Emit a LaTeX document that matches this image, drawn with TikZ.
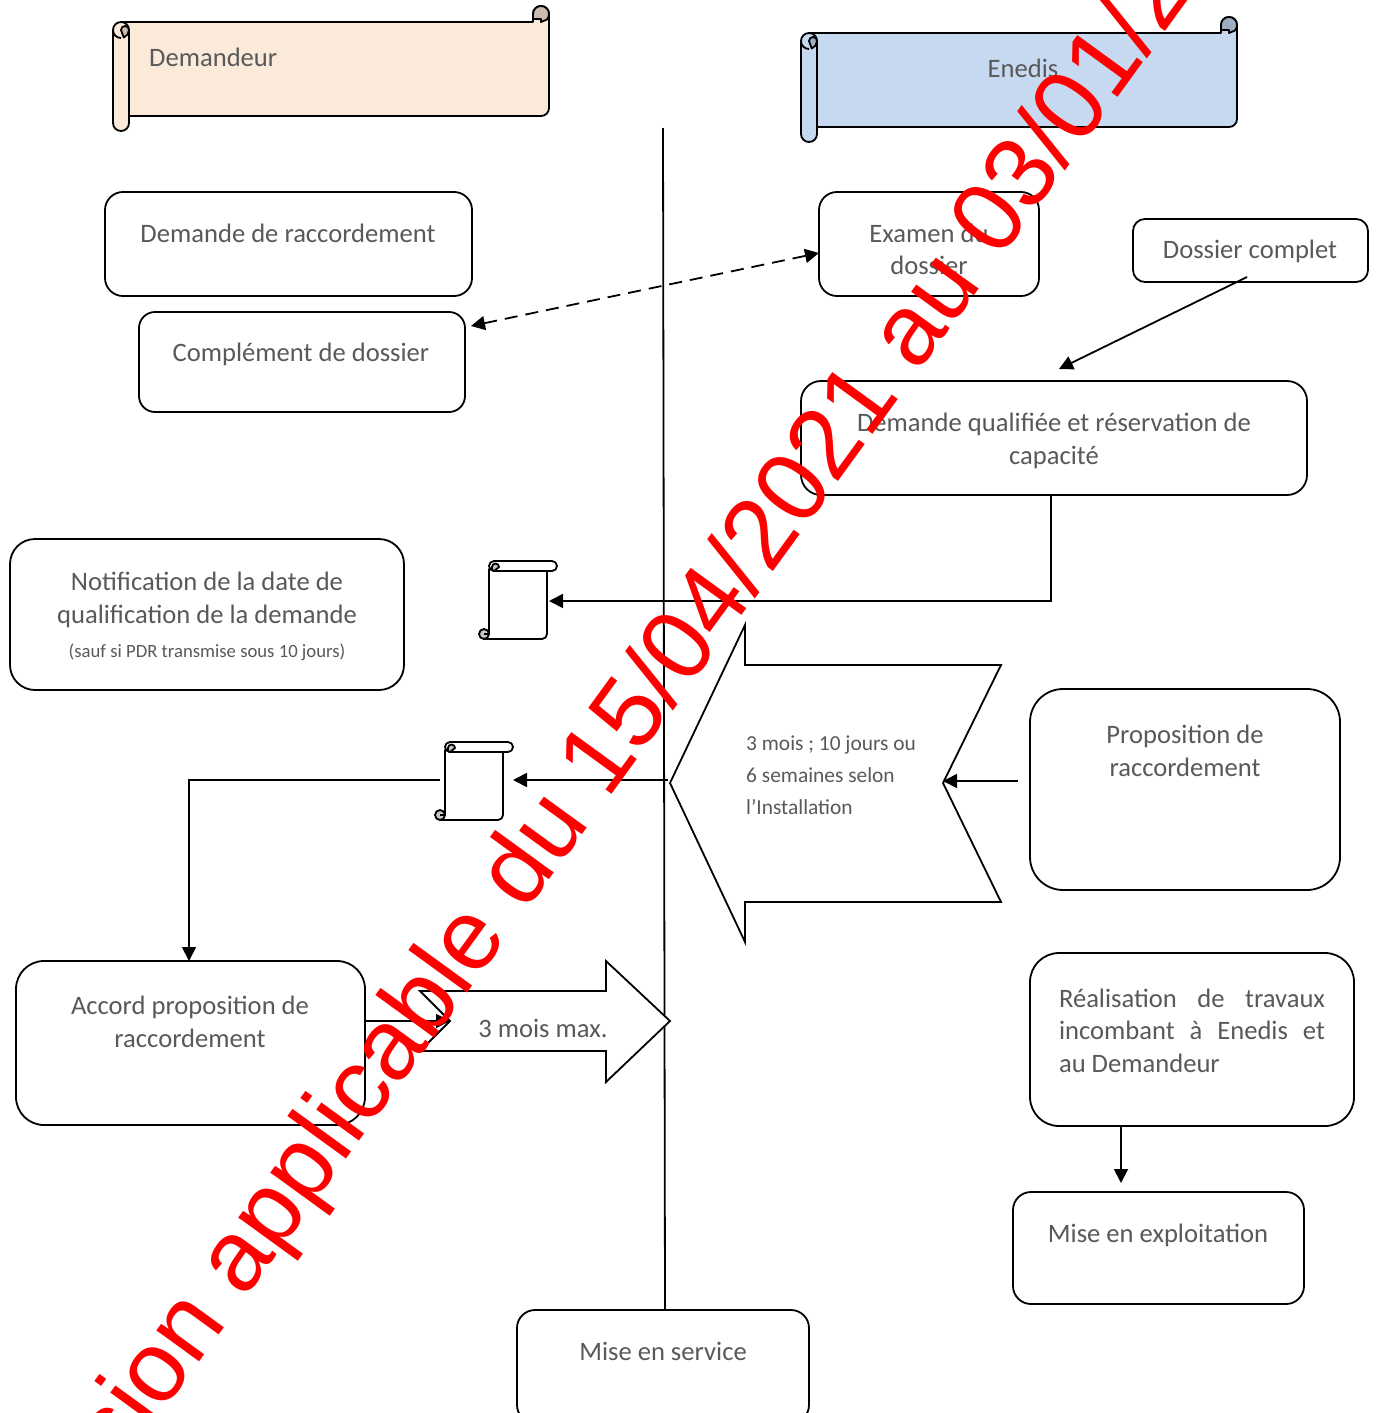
\documentclass[tikz,border=0pt]{standalone}
\usepackage{fontspec}
\setmainfont{Carlito}
\newfontfamily\wmfont{Liberation Sans}
\usetikzlibrary{arrows.meta}
\definecolor{txtgray}{HTML}{595959}
\definecolor{peach}{HTML}{FBE9DA}
\definecolor{peachdk}{HTML}{CBBBAF}
\definecolor{bluefill}{HTML}{C6D9F1}
\definecolor{bluedk}{HTML}{9EAEC1}
\tikzset{
  x=1pt,y=-1pt,
  box/.style={draw=black,line width=1.8pt,fill=white,rounded corners=#1,inner sep=0pt,outer sep=0pt},
  box/.default=18pt,
  lab/.style={text=txtgray,font=\fontsize{26.6}{32.6}\selectfont,align=center,inner sep=0pt},
  labsmall/.style={text=txtgray,font=\fontsize{18.7}{24}\selectfont,align=center,inner sep=0pt},
  lnk/.style={draw=black,line width=1.8pt},
  arr/.style={lnk,-{Triangle[length=14pt,width=14pt]}},
  dblarr/.style={lnk,dashed,dash pattern=on 13pt off 8pt,{Triangle[length=14pt,width=14pt]}-{Triangle[length=14pt,width=14pt]}},
  blockarrow/.style={draw=black,line width=1.8pt,fill=white,line join=miter},
  scrollline/.style={draw=black,line width=1.8pt,line join=round},
  anchorpt/.style={inner sep=0pt,outer sep=0pt,minimum size=0pt}
}
\newcommand{\hscroll}[4]{%
\begin{scope}[shift={(#1,#2)}]
  \draw[scrollline,fill=#3] (8,0) -- (420,0) -- (420,-8) arc[start angle=180,end angle=0,radius=8pt] -- (436,86) arc[start angle=0,end angle=-90,radius=8pt] -- (16,94) -- (16,8) -- cycle;
  \draw[scrollline,fill=#4] (420,-3) -- (420,-8) arc[start angle=180,end angle=-45,radius=8pt] -- (428,0) -- (428,-3) -- cycle;
  \draw[scrollline,fill=#3] (0,8) arc[start angle=180,end angle=0,radius=8pt] -- (16,101) arc[start angle=0,end angle=-180,radius=8pt] -- cycle;
  \draw[scrollline,fill=#4] (8,8) arc[start angle=180,end angle=0,radius=4pt] -- (16,8) arc[start angle=0,end angle=-70,radius=8pt] -- (8,8) -- cycle;
  \draw[scrollline] (0,8) arc[start angle=180,end angle=270,radius=8pt];
\end{scope}}
\newcommand{\vscroll}[2]{%
\begin{scope}[shift={(#1,#2)}]
  \draw[scrollline,fill=white] (-5,78) -- (53,78) arc[start angle=-90,end angle=0,radius=5pt] -- (58,8) -- (0,8) -- (0,73) -- cycle;
  \draw[scrollline,fill=gray!45] (-5,73) circle[radius=5pt];
  \draw[scrollline,fill=white] (-5,73) -- (0,73);
  \draw[scrollline,fill=white] (0,5) arc[start angle=180,end angle=90,radius=5pt] -- (63,0) arc[start angle=90,end angle=-90,radius=5pt] -- (5,10) arc[start angle=-90,end angle=-180,radius=5pt] -- cycle;
  \draw[scrollline,fill=gray!45] (3,6) arc[start angle=180,end angle=0,radius=3.5pt] -- (5,10) arc[start angle=-90,end angle=-180,radius=2pt] -- cycle;
\end{scope}}
\begin{document}
\begin{tikzpicture}
\path[use as bounding box] (0,0) rectangle (1376,1413);
\clip (0,0) rectangle (1376,1413);
\fill[white] (0,0) rectangle (1376,1413);

% central line
\coordinate (axisTop) at (663,128);
\coordinate (axisBottom) at (665,1311);
\draw[lnk] (axisTop) -- (axisBottom);

% scroll headers
\hscroll{113}{22}{peach}{peachdk}
\hscroll{801}{33}{bluefill}{bluedk}
\node[lab,anchor=base west] (hdrA) at (149,66.5) {Demandeur};
\node[lab,anchor=base] (hdrB) at (1023,77.5) {Enedis};

% boxes
\node[box=18pt,minimum width=367pt,minimum height=104pt] (demande) at (288.5,244) {};
\node[box=16pt,minimum width=326pt,minimum height=100pt] (complement) at (302,362) {};
\node[box=18pt,minimum width=220pt,minimum height=104pt] (examen) at (929,244) {};
\node[box=12pt,minimum width=235pt,minimum height=63pt] (complet) at (1250.5,250.5) {};
\node[box=20pt,minimum width=506pt,minimum height=114pt] (qualif) at (1054,438) {};
\node[box=25pt,minimum width=394pt,minimum height=151pt] (notif) at (207,614.5) {};
\node[box=33pt,minimum width=310pt,minimum height=201pt] (prop) at (1185,789.5) {};
\node[box=28pt,minimum width=349pt,minimum height=164pt] (accord) at (190.5,1043) {};
\node[box=29pt,minimum width=324pt,minimum height=173pt] (real) at (1192,1039.5) {};
\node[box=18pt,minimum width=291pt,minimum height=112pt] (exploit) at (1158.5,1248) {};
\node[box=18pt,minimum width=292pt,minimum height=113pt] (service) at (663,1366.5) {};

% box labels
\node[lab] (t1) at (288,233) {Demande de raccordement};
\node[lab] (t2) at (301,354.5) {Complément de dossier};
\node[lab] (t3) at (929,249.5) {Examen du\\dossier};
\node[lab] (t4) at (1250,251.5) {Dossier complet};
\node[lab] (t5) at (1054,441) {Demande qualifiée et réservation de\\capacité};
\node[lab] (t6) at (207,600) {Notification de la date de\\qualification de la demande};
\node[labsmall] (t7) at (207,652.5) {(sauf si PDR transmise sous 10 jours)};
\node[lab] (t8) at (1185,751) {Proposition de\\raccordement};
\node[lab] (t9) at (190,1022) {Accord proposition de\\raccordement};
\node[lab,align=left] (t10) at (1192,1030.5) {\makebox[266pt][s]{Réalisation de travaux}\\\makebox[266pt][s]{incombant à Enedis et}\\\makebox[266pt][l]{au Demandeur}};
\node[lab] (t11) at (1158,1235.5) {Mise en exploitation};
\node[lab] (t12) at (663,1351) {Mise en service};

% small scrolls
\vscroll{489}{561}
\vscroll{445}{742}
\coordinate (scrollAin) at (549,601);
\coordinate (scrollBin) at (513,780);
\coordinate (scrollBout) at (440,780);

% block arrows
\coordinate (connLeftA) at (668,780);
\coordinate (connRightA) at (1018,781);
\coordinate (notchA) at (943,781);
\coordinate (connRightB) at (366,1021);
\coordinate (notchB) at (450,1021);
\coordinate (accordIn) at (189,961);
\draw[arr] (connRightB) -- (notchB);
\draw[blockarrow] (670,783) -- (745,625) -- (745,665) -- (1001,665) -- (943,783) -- (1001,902) -- (745,902) -- (745,942) -- cycle;
\draw[blockarrow] (420,991) -- (606,991) -- (606,961) -- (670,1021) -- (606,1082) -- (606,1051) -- (420,1051) -- (450,1021) -- cycle;
\node[labsmall,align=left,anchor=west,font=\fontsize{21.4}{32}\selectfont] (t13) at (746,775.5) {3 mois ; 10 jours ou\\6 semaines selon\\l’Installation};
\node[lab] (t14) at (543,1028) {3 mois max.};

% connectors
\coordinate (dashA) at (471,326);
\coordinate (dashB) at (819,253);
\coordinate (completOut) at (1247,277);
\coordinate (qualifIn) at (1059,369);
\coordinate (qualifOut) at (1051,495);
\draw[dblarr] (dashA) -- (dashB);
\draw[arr] (completOut) -- (qualifIn);
\draw[arr] (qualifOut) |- (scrollAin);
\draw[arr] (connLeftA) -- (scrollBin);
\draw[arr] (scrollBout) -| (accordIn);
\draw[arr] (connRightA) -- (notchA);
\coordinate (realOut) at (1121,1127);
\coordinate (exploitIn) at (1121,1183);
\draw[arr] (realOut) -- (exploitIn);

% watermark
\node[text=red,font=\fontsize{100}{100}\wmfont,anchor=base west,rotate=54,inner sep=0pt] (wm) at (32,1592) {Version applicable du 15/04/2021 au 03/01/2};
\end{tikzpicture}
\end{document}
